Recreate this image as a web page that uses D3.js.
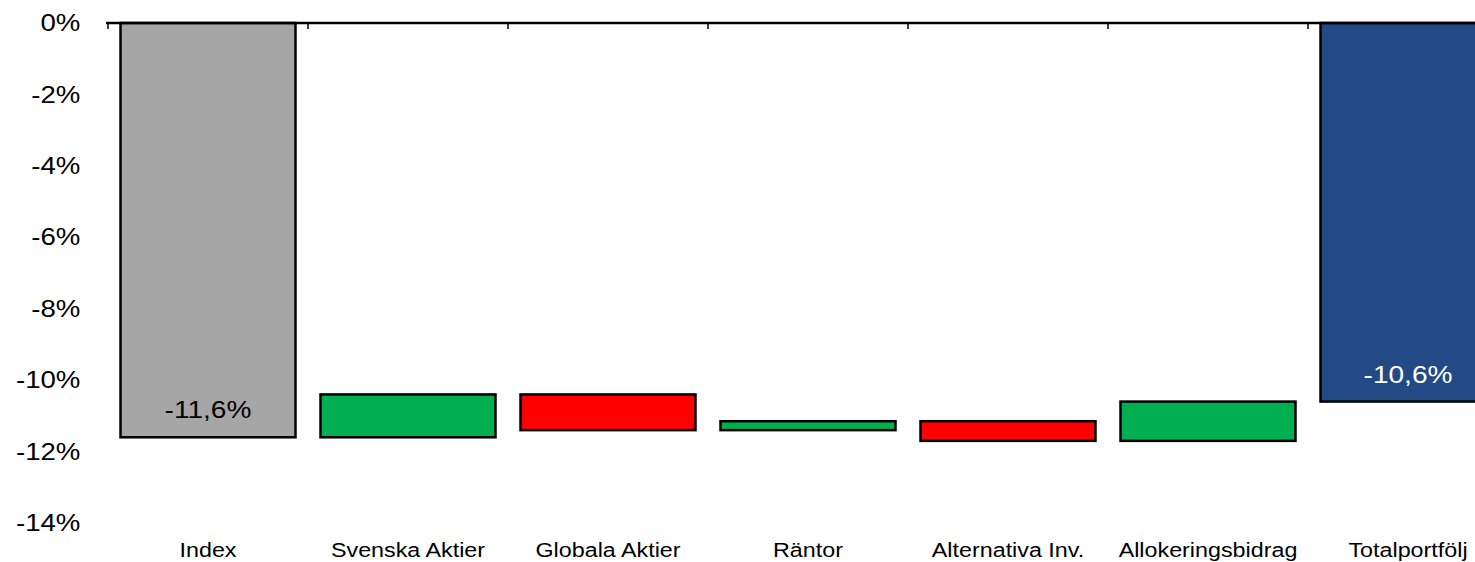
<!DOCTYPE html>
<html>
<head>
<meta charset="utf-8">
<script src="https://cdn.jsdelivr.net/npm/d3@7"></script>
<style>
  body { margin: 0; background: #fff; }
  text { font-family: "Liberation Sans", Arial, sans-serif; }
</style>
</head>
<body>
<div id="chart"></div>
<script>
// waterfall: first and last are totals, the rest are contributions
const categories = ['Index', 'Svenska Aktier', 'Globala Aktier', 'Räntor', 'Alternativa Inv.', 'Allokeringsbidrag', 'Totalportfölj'];
const values = [-11.6, 1.2, -1.0, 0.25, -0.55, 1.1, -10.6];
const isTotal = [true, false, false, false, false, false, true];
const barLabels = ['-11,6%', '', '', '', '', '', '-10,6%'];
const yTicks = [0, -2, -4, -6, -8, -10, -12, -14];

const width = 1475,
      height = 562;

const x = d3.scaleBand()
    .domain(categories)
    .range([108, 1508])
    .paddingInner(0.125)
    .paddingOuter(0.0625);

const y = d3.scaleLinear()
    .domain([-14, 0])
    .range([523, 23]);

// running totals -> start/end of each bar
let running = 0;
const bars = categories.map((c, i) => {
  let y0, y1;
  if (isTotal[i]) { y0 = 0; y1 = values[i]; running = values[i]; }
  else { y0 = running; y1 = running + values[i]; running = y1; }
  return {cat: c, v: values[i], y0: y0, y1: y1, total: isTotal[i], label: barLabels[i], i: i};
});

const color = (d) => {
  if (d.total) return d.i === 0 ? '#a6a6a6' : '#244a86';
  return d.v >= 0 ? '#00b050' : '#ff0000';
};

const svg = d3.select('#chart').append('svg')
    .attr('width', width).attr('height', height);

// y axis, labels only
const yAxis = d3.axisLeft(y)
    .tickValues(yTicks)
    .tickSize(0)
    .tickPadding(24)
    .tickFormat((d) => d + '%');

const yg = svg.append('g').attr('class', 'axis y')
    .attr('transform', 'translate(108,0)')
    .call(yAxis);
yg.select('.domain').remove();
yg.selectAll('text')
    .attr('fill', '#000')
    .style('font-size', '24px')
    .attr('transform', 'scale(1.15,1)');

// bars
svg.append('g').selectAll('rect')
  .data(bars)
  .enter().append('rect')
    .attr('x', (d) => x(d.cat))
    .attr('y', (d) => y(Math.max(d.y0, d.y1)))
    .attr('width', x.bandwidth())
    .attr('height', (d) => Math.abs(y(d.y0) - y(d.y1)))
    .attr('fill', color)
    .attr('stroke', '#000')
    .attr('stroke-width', 2.5);

// value labels inside the total bars
svg.append('g').selectAll('text')
  .data(bars.filter((d) => d.label))
  .enter().append('text')
    .attr('transform', (d) => 'translate(' + (x(d.cat) + x.bandwidth() / 2) + ',' + (y(d.y1) - 19) + ') scale(1.17,1)')
    .attr('text-anchor', 'middle')
    .style('font-size', '24px')
    .attr('fill', (d) => d.i === 0 ? '#000' : '#fff')
    .text((d) => d.label);

// zero line along the top with ticks between categories
const zeroY = y(0);
svg.append('line')
    .attr('x1', 106).attr('x2', width)
    .attr('y1', zeroY).attr('y2', zeroY)
    .attr('stroke', '#000').attr('stroke-width', 2.5);

const boundaries = categories.map((c) => x(c) - x.step() * x.paddingInner() / 2);
svg.append('g').selectAll('line')
  .data(boundaries)
  .enter().append('line')
    .attr('x1', (d) => d).attr('x2', (d) => d)
    .attr('y1', zeroY).attr('y2', zeroY + 6)
    .attr('stroke', '#000').attr('stroke-width', 1.5);

// category labels at the bottom
const xAxis = d3.axisBottom(x).tickSize(0).tickPadding(0);
const xg = svg.append('g').attr('class', 'axis x')
    .attr('transform', 'translate(0,557)')
    .call(xAxis);
xg.select('.domain').remove();
xg.selectAll('text')
    .attr('y', 0).attr('dy', 0)
    .attr('fill', '#000')
    .style('font-size', '21px')
    .attr('transform', 'scale(1.11,1)');
</script>
</body>
</html>
